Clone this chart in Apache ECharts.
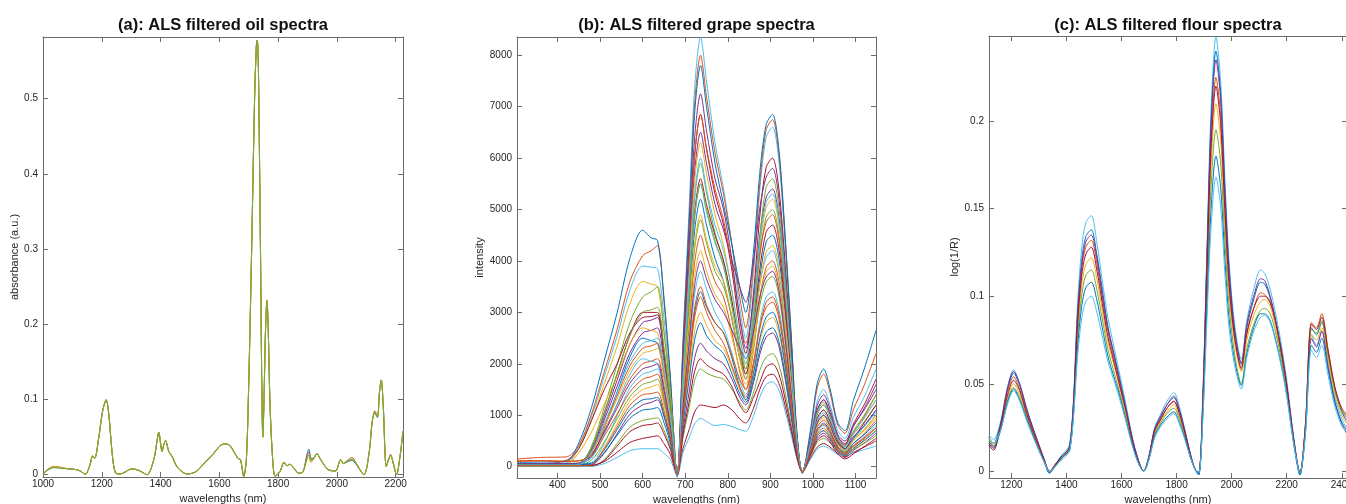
<!DOCTYPE html>
<html><head><meta charset="utf-8">
<script src="https://cdn.jsdelivr.net/npm/echarts@6/dist/echarts.min.js"></script>
<style>html,body{margin:0;padding:0;background:#fff}#c{width:1346px;height:504px}</style>
</head><body><div id="c"></div>
<script>
// ---------- Panel (a): oil spectra ----------
const aWave=[1000,1015,1036,1060,1082,1110,1127,1144,1159,1169,1176,1190,1203,1215,1224,1235,1246,1263,1303,1330,1354,1377,1388,1394,1400,1405,1411,1417,1428,1440,1457,1491,1520,1547,1580,1604,1620,1635,1649,1663,1672,1683,1692,1700,1710,1720,1726,1729,1732,1735,1740,1745,1748,1752,1757,1762,1766,1772,1780,1790,1806,1820,1830,1840,1855,1870,1885,1897,1905,1912,1920,1932,1945,1970,1995,2013,2022,2035,2052,2065,2092,2110,2120,2129,2138,2145,2151,2158,2168,2176,2183,2192,2203,2215,2225];
const aBlue=[0.001,0.006,0.0095,0.009,0.008,0.007,0.005,0.0005,0.012,0.025,
0.022,0.05,0.085,0.0996,0.08,0.03,0.003,0.001,0.008,0.005,
0.0,0.02,0.045,0.0567,0.042,0.031,0.04,0.0456,0.031,0.024,
0.01,0.001,0.004,0.0146,0.028,0.039,0.041,0.039,0.031,0.022,
0.02,-0.002,0.02,0.12,0.30,0.50,0.57,0.578,0.56,0.48,
0.30,0.10,0.05,0.10,0.19,0.232,0.20,0.10,0.03,-0.002,
0.004,0.016,0.012,0.014,0.008,0.002,0.004,0.025,0.034,0.022,
0.022,0.028,0.02,0.007,0.005,0.02,0.015,0.017,0.019,0.014,
0.0,0.03,0.07,0.082,0.076,0.11,0.126,0.09,0.011,0.02,
0.026,0.015,0.0,0.025,0.058];
const aRed=[0.001,0.007,0.011,0.010,0.008,0.007,0.005,0.0005,0.012,0.025,
0.022,0.05,0.085,0.0996,0.08,0.03,0.003,0.001,0.008,0.005,
0.0,0.02,0.045,0.0567,0.042,0.031,0.04,0.0456,0.031,0.024,
0.01,0.001,0.004,0.0146,0.028,0.039,0.041,0.039,0.031,0.022,
0.02,-0.002,0.02,0.12,0.30,0.50,0.57,0.578,0.56,0.48,
0.30,0.10,0.05,0.10,0.19,0.232,0.20,0.10,0.03,-0.002,
0.004,0.017,0.012,0.014,0.008,0.002,0.004,0.023,0.030,0.020,
0.021,0.028,0.02,0.007,0.005,0.02,0.015,0.019,0.023,0.016,
0.0,0.03,0.07,0.085,0.078,0.11,0.126,0.09,0.011,0.021,
0.027,0.015,0.0,0.025,0.058];
const aYellow=[0.001,0.006,0.0105,0.0095,0.008,0.007,0.005,0.0005,0.012,0.025,
0.022,0.05,0.085,0.0996,0.08,0.03,0.003,0.001,0.008,0.005,
0.0,0.02,0.045,0.0567,0.042,0.031,0.04,0.0456,0.031,0.024,
0.01,0.001,0.004,0.0146,0.028,0.039,0.041,0.039,0.031,0.022,
0.02,-0.002,0.02,0.12,0.30,0.50,0.57,0.578,0.56,0.48,
0.30,0.10,0.05,0.10,0.19,0.232,0.20,0.10,0.03,-0.002,
0.004,0.016,0.012,0.014,0.008,0.002,0.004,0.019,0.022,0.016,
0.020,0.028,0.02,0.007,0.005,0.02,0.015,0.018,0.020,0.015,
0.0,0.03,0.07,0.083,0.077,0.11,0.126,0.09,0.011,0.02,
0.026,0.015,0.0,0.025,0.058];
const aGreen=[0.001,0.006,0.0097,0.009,0.008,0.007,0.005,0.0005,0.012,0.025,
0.022,0.05,0.085,0.0996,0.08,0.03,0.003,0.001,0.008,0.005,
0.0,0.02,0.045,0.0567,0.042,0.031,0.04,0.0456,0.031,0.024,
0.01,0.001,0.004,0.0146,0.028,0.039,0.041,0.039,0.031,0.022,
0.02,-0.002,0.02,0.12,0.30,0.50,0.57,0.578,0.56,0.48,
0.30,0.10,0.05,0.10,0.19,0.232,0.20,0.10,0.03,-0.002,
0.004,0.016,0.012,0.014,0.008,0.002,0.004,0.02,0.026,0.018,
0.021,0.028,0.02,0.007,0.005,0.02,0.015,0.018,0.021,0.015,
0.0,0.03,0.07,0.083,0.077,0.11,0.126,0.09,0.011,0.02,
0.026,0.015,0.0,0.025,0.058];
const aXTicks=[1000,1200,1400,1600,1800,2000,2200];
const aYTicks=[0,0.1,0.2,0.3,0.4,0.5];

// ---------- Panel (b): grape spectra ----------
const bWave=[305,360,420,450,480,510,540,570,600,620,635,650,665,681,695,710,722,736,750,770,790,810,828,842,860,875,890,905,920,935,950,962,975,995,1010,1025,1040,1058,1075,1095,1120,1148];
const b01=[60,60,70,390,975,1755,2535,3430,3900,3880,3850,2890,1540,-150,2500,5180,7350,8350,7500,6300,5400,4300,3100,2500,3730,5370,6400,6600,5940,4290,2310,660,-100,600,1275,1500,1200,700,550,960,1350,1900];
const b02=[150,180,190,410,1025,1845,2665,3600,4100,4200,4300,3220,1720,-180,2400,4960,7040,8000,7200,6100,5300,4300,3300,2700,3900,5500,6550,6750,6070,4390,2360,680,-120,720,1530,1800,1440,810,650,1110,1580,2200];
const b03=[80,90,100,460,1150,2070,2990,4050,4600,4450,4400,3300,1760,-200,2340,4840,6860,7800,7000,5900,5100,4300,3500,3000,4150,5700,6650,6850,6170,4450,2400,690,-130,760,1620,1900,1520,860,700,1290,1890,2650];
const b04=[40,40,40,60,360,1050,1800,2550,3000,3000,3000,2250,1200,-150,2050,4250,6030,6850,6170,5300,4700,3800,2700,2200,3340,4860,5820,6000,5400,3900,2100,600,-100,520,1100,1300,1040,590,450,830,1200,1700];
const b05=[50,50,50,60,310,910,1560,2210,2600,2650,2700,2030,1080,-150,1950,4030,5720,6500,5900,5100,4600,4000,3500,3200,3980,5020,5630,5800,5220,3770,2030,580,-100,560,1190,1400,1120,630,500,800,1100,1500];
const b06=[20,20,30,360,900,1620,2340,3170,3600,3550,3500,2630,1400,-150,1890,3910,5540,6300,5700,4900,4300,3400,2500,2000,2960,4240,5040,5200,4680,3380,1820,520,-100,480,1020,1200,960,540,400,670,940,1300];
const b07=[30,30,30,40,400,1160,1980,2800,3300,3400,3500,2630,1400,-150,1770,3660,5190,5900,5330,4550,4000,3200,2350,1900,2830,4070,4850,5000,4500,3250,1750,500,-100,440,940,1100,880,500,380,630,870,1200];
const b08=[50,50,50,50,200,750,1450,2130,2500,2450,2400,1800,960,-150,1560,3220,4580,5200,4700,4050,3600,2850,2100,1700,2540,3660,4370,4500,4050,2930,1580,450,-100,400,850,1000,800,450,300,540,780,1100];
const b09=[100,110,100,110,240,700,1200,1700,2000,2050,2100,1580,840,-150,1350,2790,3960,4500,4100,3600,3300,2600,1850,1500,2250,3250,3880,4000,3600,2600,1400,400,-100,360,770,900,720,400,260,450,640,900];
const b10=[60,60,60,60,80,450,990,1530,1800,1850,1900,1430,760,-150,1140,2360,3340,3800,3450,3000,2700,2200,1650,1400,2000,2800,3300,3400,3060,2210,1190,340,-100,320,680,800,640,360,240,410,580,800];
const b11=[20,20,20,20,40,380,830,1280,1500,1550,1600,1200,640,-150,900,1860,2640,3000,2750,2450,2300,1900,1500,1300,1780,2420,2810,2900,2610,1890,1020,290,-100,280,600,700,560,320,200,350,500,700];
const b12=[30,30,30,30,40,260,640,1020,1200,1250,1300,980,520,-150,720,1490,2110,2400,2250,2100,2000,1700,1350,1200,1620,2180,2520,2600,2340,1690,910,260,-100,260,550,650,520,290,180,320,460,650];
const b13=[10,10,10,10,10,140,450,770,900,930,950,710,380,-150,570,1180,1670,1900,1820,1750,1700,1500,1250,1100,1430,1870,2130,2200,1980,1430,770,220,-100,220,470,550,460,310,250,340,450,600];
const b14=[30,30,30,30,30,100,280,470,550,580,600,450,240,-150,360,740,1060,1200,1180,1150,1200,1100,930,850,1130,1500,1750,1800,1620,1170,630,180,-100,180,380,450,380,260,200,280,380,500];
const b15=[10,10,10,10,10,60,180,310,350,350,350,260,140,-180,280,580,830,940,880,800,820,780,720,690,980,1350,1600,1650,1490,1070,580,170,-100,160,340,400,340,240,220,270,330,400];
const b16=[40,40,40,50,280,800,1380,1960,2300,2350,2400,1800,960,-150,2060,4250,6030,6850,6200,5400,4800,3900,2900,2400,3150,4150,4750,4900,4410,3190,1720,490,-100,480,1020,1200,960,540,350,660,970,1400];
const b17=[30,30,30,30,130,480,930,1360,1600,1650,1700,1280,680,-150,1440,2980,4220,4800,4350,3800,3500,2900,2150,1800,2370,3130,3590,3700,3330,2410,1300,370,-100,400,850,1000,800,450,300,510,720,1000];
const b18=[50,50,50,50,70,330,720,1110,1300,1320,1350,1010,540,-150,1020,2110,2990,3400,3100,2800,2600,2100,1550,1300,1810,2490,2910,3000,2700,1950,1050,300,-100,340,720,850,680,380,280,450,620,850];
const b19=[60,60,120,350,900,1500,2000,2600,2900,2920,2950,2210,1180,-150,1680,3470,4930,5600,5100,4500,4000,3200,2300,1800,2670,3830,4560,4700,4230,3060,1650,470,-100,440,940,1100,880,500,350,560,850,1200];
const b20=[20,20,20,30,260,770,1320,1870,2200,2250,2300,1730,920,-150,1260,2600,3700,4200,3800,3350,3100,2500,1900,1600,2290,3290,3780,3900,3510,2540,1370,390,-100,380,810,950,760,430,320,510,700,950];
const b21=[40,40,40,50,340,980,1680,2380,2800,2850,2900,2180,1160,-150,2180,4500,6380,7250,6530,5600,5000,4000,2900,2300,3230,4470,5240,5400,4860,3510,1890,540,-100,520,1100,1300,1040,590,420,780,1130,1600];
const b22=[70,70,70,70,170,630,1220,1790,2100,2050,2000,1500,800,-150,1650,3410,4840,5500,4950,4350,3900,3100,2350,2000,2660,3540,4070,4200,3780,2730,1470,420,-100,420,890,1050,840,470,330,550,780,1050];
const b23=[120,120,110,120,200,600,1020,1450,1700,1750,1800,1350,720,-150,1050,2170,3080,3500,3150,2800,2600,2150,1700,1500,2010,2690,3100,3200,2880,2080,1120,320,-100,330,700,820,660,370,260,410,560,760];
const b24=[30,30,40,270,680,1220,1760,2380,2700,2650,2600,1950,1040,-150,1470,3040,4310,4900,4420,3900,3600,2900,2100,1700,2480,3520,4170,4300,3870,2800,1510,430,-100,400,850,1000,800,450,300,510,720,1000];
const b25=[40,40,40,40,50,280,610,940,1100,1120,1150,860,460,-150,840,1740,2460,2800,2550,2350,2200,1800,1420,1250,1690,2270,2620,2700,2430,1760,950,270,-100,280,600,700,560,320,220,360,510,700];
const b26=[50,50,50,60,360,1050,1800,2550,3000,3050,3100,2330,1240,-150,1650,3410,4840,5500,5000,4400,3900,3100,2300,1900,2990,4450,5430,5600,5040,3640,1960,560,-100,500,1060,1250,1000,560,400,700,1000,1400];
const b27=[20,20,20,20,20,120,400,680,800,820,850,640,340,-150,630,1300,1850,2100,1980,1880,1800,1550,1200,1050,1340,1640,1940,2000,1800,1300,700,200,-100,240,510,600,480,250,150,250,390,550];
const b28=[60,60,60,70,230,670,1140,1620,1900,1950,2000,1500,800,-150,1200,2480,3520,4000,3650,3250,3000,2650,2300,2100,2610,3290,3690,3800,3420,2470,1330,380,-100,400,850,1000,800,460,350,580,800,1100];
const b29=[30,30,30,40,290,840,1440,2040,2400,2450,2500,1880,1000,-150,1800,3720,5280,6000,5400,4700,4200,3400,2500,2100,3060,4340,5140,5300,4770,3450,1860,530,-100,480,1020,1200,960,540,380,660,940,1300];
const b30=[20,20,20,20,40,350,770,1190,1400,1420,1450,1090,580,-150,990,2050,2900,3300,3000,2650,2400,1950,1550,1350,1940,2700,3200,3300,2970,2150,1160,330,-100,300,640,750,600,340,230,390,540,750];
const bXTicks=[400,500,600,700,800,900,1000,1100];
const bYTicks=[0,1000,2000,3000,4000,5000,6000,7000,8000];

// ---------- Panel (c): flour spectra ----------
const cWave=[1118,1135,1160,1185,1208,1230,1255,1280,1305,1320,1338,1360,1385,1400,1412,1425,1440,1455,1470,1490,1510,1530,1550,1570,1590,1615,1640,1660,1680,1700,1720,1740,1765,1790,1810,1830,1850,1865,1880,1895,1910,1925,1943,1960,1975,1990,2010,2035,2055,2080,2105,2120,2140,2160,2180,2200,2225,2248,2268,2290,2308,2327,2350,2375,2400,2420];
const c1=[0.021,0.018,0.028,0.048,0.058,0.050,0.036,0.024,0.013,0.007,0.000,0.004,0.010,0.012,0.016,0.040,0.095,0.127,0.142,0.146,0.131,0.109,0.088,0.073,0.058,0.039,0.019,0.007,0.000,0.009,0.025,0.032,0.040,0.045,0.037,0.024,0.010,0.002,-0.001,0.042,0.126,0.206,0.248,0.223,0.169,0.121,0.085,0.064,0.086,0.104,0.115,0.113,0.104,0.090,0.073,0.052,0.020,-0.001,0.024,0.078,0.072,0.080,0.062,0.042,0.030,0.024];
const c2=[0.019,0.016,0.027,0.046,0.056,0.049,0.035,0.023,0.012,0.006,-0.001,0.004,0.009,0.011,0.015,0.038,0.090,0.120,0.134,0.138,0.124,0.104,0.083,0.069,0.055,0.037,0.018,0.007,0.000,0.009,0.024,0.030,0.038,0.042,0.035,0.023,0.010,0.002,-0.002,0.041,0.122,0.199,0.240,0.216,0.163,0.118,0.082,0.061,0.082,0.098,0.108,0.107,0.099,0.086,0.070,0.050,0.019,-0.002,0.026,0.082,0.078,0.085,0.067,0.046,0.034,0.028];
const c3=[0.020,0.014,0.026,0.045,0.054,0.047,0.034,0.022,0.012,0.006,0.000,0.004,0.008,0.010,0.013,0.036,0.086,0.115,0.128,0.132,0.119,0.099,0.080,0.066,0.053,0.036,0.017,0.006,0.000,0.008,0.023,0.029,0.036,0.040,0.033,0.022,0.009,0.002,-0.001,0.038,0.115,0.187,0.225,0.203,0.153,0.110,0.078,0.058,0.078,0.093,0.102,0.101,0.097,0.085,0.069,0.049,0.018,-0.001,0.027,0.085,0.082,0.090,0.070,0.048,0.035,0.030];
const c4=[0.017,0.015,0.024,0.041,0.050,0.044,0.032,0.021,0.011,0.005,0.000,0.003,0.008,0.010,0.013,0.034,0.079,0.106,0.118,0.122,0.110,0.092,0.074,0.062,0.050,0.033,0.016,0.006,0.000,0.008,0.022,0.028,0.034,0.038,0.031,0.021,0.009,0.002,-0.001,0.036,0.107,0.174,0.210,0.189,0.143,0.103,0.074,0.057,0.075,0.089,0.097,0.098,0.094,0.082,0.066,0.047,0.018,-0.001,0.025,0.078,0.075,0.082,0.064,0.044,0.032,0.027];
const c5=[0.016,0.013,0.026,0.047,0.057,0.050,0.036,0.024,0.013,0.006,0.000,0.004,0.009,0.011,0.014,0.037,0.088,0.117,0.131,0.135,0.122,0.101,0.082,0.068,0.054,0.036,0.018,0.007,0.000,0.009,0.024,0.031,0.038,0.043,0.035,0.023,0.010,0.002,-0.001,0.040,0.120,0.195,0.235,0.212,0.160,0.115,0.081,0.062,0.084,0.100,0.110,0.109,0.100,0.086,0.069,0.049,0.019,-0.001,0.023,0.076,0.071,0.080,0.060,0.040,0.027,0.021];
const c6=[0.018,0.016,0.024,0.040,0.048,0.042,0.031,0.020,0.011,0.005,0.000,0.003,0.008,0.010,0.013,0.033,0.075,0.100,0.112,0.115,0.104,0.087,0.070,0.058,0.047,0.031,0.015,0.006,0.000,0.008,0.021,0.027,0.033,0.036,0.030,0.020,0.008,0.002,-0.001,0.033,0.100,0.162,0.195,0.176,0.133,0.096,0.068,0.050,0.070,0.084,0.092,0.093,0.090,0.079,0.064,0.046,0.017,-0.001,0.026,0.081,0.079,0.086,0.067,0.047,0.035,0.031];
const c7=[0.015,0.012,0.025,0.043,0.052,0.046,0.033,0.022,0.012,0.006,0.000,0.004,0.009,0.011,0.014,0.036,0.083,0.111,0.124,0.128,0.115,0.096,0.077,0.064,0.051,0.035,0.017,0.006,0.000,0.008,0.023,0.029,0.036,0.040,0.033,0.022,0.009,0.002,-0.001,0.037,0.112,0.183,0.220,0.198,0.150,0.108,0.077,0.059,0.079,0.093,0.100,0.100,0.096,0.085,0.068,0.049,0.018,-0.001,0.027,0.084,0.081,0.088,0.069,0.048,0.036,0.032];
const c8=[0.017,0.014,0.023,0.039,0.047,0.041,0.030,0.020,0.010,0.005,-0.001,0.003,0.008,0.010,0.012,0.031,0.070,0.094,0.105,0.108,0.098,0.082,0.066,0.055,0.045,0.030,0.015,0.005,0.000,0.007,0.020,0.026,0.031,0.034,0.028,0.019,0.008,0.002,-0.002,0.031,0.092,0.149,0.180,0.162,0.122,0.088,0.064,0.049,0.067,0.082,0.090,0.090,0.086,0.075,0.061,0.044,0.016,-0.002,0.022,0.072,0.068,0.076,0.058,0.039,0.028,0.023];
const c9=[0.019,0.016,0.023,0.038,0.046,0.040,0.029,0.019,0.010,0.005,0.000,0.003,0.007,0.009,0.012,0.030,0.065,0.087,0.097,0.100,0.091,0.077,0.063,0.053,0.043,0.029,0.014,0.005,0.000,0.007,0.019,0.025,0.030,0.033,0.027,0.018,0.008,0.002,-0.001,0.029,0.086,0.139,0.168,0.151,0.114,0.083,0.061,0.047,0.065,0.080,0.088,0.089,0.085,0.074,0.060,0.043,0.016,-0.001,0.021,0.069,0.065,0.072,0.055,0.037,0.026,0.022];
const cXTicks=[1200,1400,1600,1800,2000,2200,2400];
const cYTicks=[0,0.05,0.1,0.15,0.2];

const titles=['(a): ALS filtered oil spectra','(b): ALS filtered grape spectra','(c): ALS filtered flour spectra'];
const yNames=['absorbance (a.u.)','intensity','log(1/R)'];
const xName='wavelengths (nm)';

// ---------- build ----------
const FONT='"Liberation Sans", Arial, Helvetica, sans-serif';
const M=['#0072BD','#D95319','#EDB120','#7E2F8E','#77AC30','#4DBEEE','#A2142F'];
const AX='#6a6a6a', TX='#262626';
const grids=[
  {left:43,top:37,width:360,height:440,outerBoundsMode:'none',containLabel:false},
  {left:517,top:37,width:359,height:441,outerBoundsMode:'none',containLabel:false},
  {left:989,top:36,width:358,height:442,outerBoundsMode:'none',containLabel:false}
];
const ranges=[
  {xmin:1000,xmax:2225,ymin:-0.003,ymax:0.582,xt:aXTicks,yt:aYTicks,ng:21},
  {xmin:305,xmax:1148,ymin:-220,ymax:8356,xt:bXTicks,yt:bYTicks,ng:31},
  {xmin:1118.5,xmax:2419,ymin:-0.0038,ymax:0.2486,xt:cXTicks,yt:cYTicks,ng:27}
];
const plain=v=>String(v);
const xAxis=[], yAxis=[];
ranges.forEach((r,i)=>{
  const line={show:true,onZero:false,lineStyle:{color:AX,width:1}};
  const lab={fontSize:10,color:TX,fontFamily:FONT,formatter:plain};
  xAxis.push({gridIndex:i,type:'value',min:r.xmin,max:r.xmax,position:'bottom',
    name:xName,nameLocation:'middle',nameGap:12,nameTextStyle:{fontSize:11,color:TX,fontFamily:FONT},
    axisLine:line,axisTick:{show:true,inside:true,length:5,customValues:r.xt,lineStyle:{color:AX}},
    axisLabel:Object.assign({customValues:r.xt,margin:2},lab),splitLine:{show:false}});
  xAxis.push({gridIndex:i,type:'value',min:r.xmin,max:r.xmax,position:'top',
    axisLine:line,axisTick:{show:true,inside:true,length:5,customValues:r.xt,lineStyle:{color:AX}},
    axisLabel:{show:false},splitLine:{show:false}});
  yAxis.push({gridIndex:i,type:'value',min:r.ymin,max:r.ymax,position:'left',
    name:yNames[i],nameLocation:'middle',nameGap:r.ng,nameTextStyle:{fontSize:11,color:TX,fontFamily:FONT},
    axisLine:line,axisTick:{show:true,inside:true,length:5,customValues:r.yt,lineStyle:{color:AX}},
    axisLabel:Object.assign({customValues:r.yt,margin:5},lab),splitLine:{show:false}});
  yAxis.push({gridIndex:i,type:'value',min:r.ymin,max:r.ymax,position:'right',
    axisLine:line,axisTick:{show:true,inside:true,length:5,customValues:r.yt,lineStyle:{color:AX}},
    axisLabel:{show:false},splitLine:{show:false}});
});
const zip=(xs,ys)=>xs.map((x,k)=>[x,ys[k]]);
const series=[];
function add(i,xs,ys,color,w){
  series.push({type:'line',xAxisIndex:2*i,yAxisIndex:2*i,data:zip(xs,ys),showSymbol:false,symbol:'none',
    smooth:0.3,lineStyle:{color:color,width:w||1},silent:true,animation:false});
}
add(0,aWave,aBlue,M[0]);add(0,aWave,aRed,M[1]);add(0,aWave,aYellow,M[2]);add(0,aWave,aGreen,M[4],1.1);
const bAll=[b01,b02,b03,b04,b05,b06,b07,b08,b09,b10,b11,b12,b13,b14,b15,b16,b17,b18,b19,b20,b21,b22,b23,b24,b25,b26,b27,b28,b29,b30];
const bCol=[M[5],M[1],M[0],M[6],M[3],M[2],M[4],M[0],M[1],M[5],M[2],M[3],M[4],M[6],M[5],M[1],M[4],M[0],M[6],M[2],M[3],M[5],M[1],M[2],M[0],M[4],M[6],M[3],M[5],M[1]];
bAll.forEach((s,k)=>add(1,bWave,s,bCol[k]));
const cAll=[c1,c2,c3,c4,c5,c6,c7,c8,c9];
const cCol=[M[5],M[0],M[1],M[2],M[3],M[4],M[6],M[0],M[5]];
cAll.forEach((s,k)=>add(2,cWave,s,cCol[k]));

const graphic=titles.map((t,i)=>({type:'text',x:grids[i].left+grids[i].width/2,y:25,
  style:{text:t,textAlign:'center',textVerticalAlign:'middle',font:'bold 16.5px '+FONT,fill:'#111'}}));

const chart=echarts.init(document.getElementById('c'),null,{renderer:'canvas'});
chart.setOption({animation:false,backgroundColor:'#fff',grid:grids,xAxis,yAxis,series,graphic});
</script></body></html>
